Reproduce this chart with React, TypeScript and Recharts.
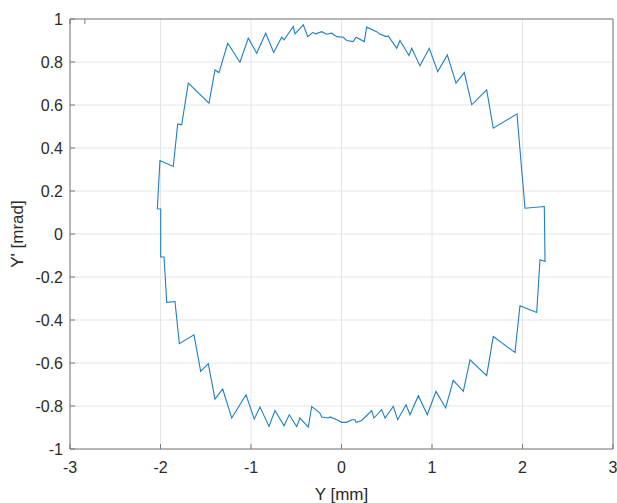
import { LineChart, Line, XAxis, YAxis, CartesianGrid } from "recharts";

// Y [mm] positions along the traced contour
const posY = [
    -2.035, -2.006, -1.859, -1.81, -1.766, -1.693, -1.464, -1.398, -1.354, -1.257,
    -1.122, -1.03, -0.937, -0.838, -0.749, -0.661, -0.635, -0.533, -0.514, -0.422,
    -0.373, -0.318, -0.282, -0.219, -0.164, -0.108, -0.053, 0.02, 0.057, 0.13,
    0.16, 0.252, 0.278, 0.389, 0.418, 0.492, 0.517, 0.61, 0.646, 0.746,
    0.776, 0.867, 0.97, 1.063, 1.169, 1.265, 1.357, 1.439, 1.604, 1.677,
    1.939, 1.991, 2.028, 2.241, 2.249, 2.193, 2.157, 1.972, 1.917, 1.677,
    1.604, 1.42, 1.346, 1.235, 1.151, 1.044, 0.948, 0.849, 0.757, 0.713,
    0.621, 0.572, 0.481, 0.444, 0.359, 0.334, 0.223, 0.16, 0.149, 0.113,
    0.057, 0.002, -0.053, -0.127, -0.146, -0.219, -0.238, -0.329, -0.367, -0.459,
    -0.495, -0.577, -0.635, -0.735, -0.801, -0.901, -0.964, -1.055, -1.213, -1.313,
    -1.398, -1.472, -1.556, -1.63, -1.792, -1.84, -1.931, -1.961, -1.998, -1.998,
    -2.035,
];

// Y' [mrad] angles, same order
const angY = [
    0.116, 0.342, 0.314, 0.512, 0.508, 0.702, 0.609, 0.763, 0.751, 0.887,
    0.799, 0.911, 0.841, 0.934, 0.844, 0.915, 0.903, 0.965, 0.931, 0.973,
    0.918, 0.937, 0.931, 0.941, 0.929, 0.934, 0.918, 0.915, 0.9, 0.895,
    0.915, 0.895, 0.962, 0.941, 0.931, 0.918, 0.921, 0.864, 0.9, 0.83,
    0.864, 0.782, 0.864, 0.755, 0.833, 0.702, 0.751, 0.601, 0.67, 0.492,
    0.559, 0.298, 0.12, 0.128, -0.128, -0.12, -0.365, -0.334, -0.551, -0.477,
    -0.659, -0.585, -0.732, -0.681, -0.809, -0.732, -0.841, -0.752, -0.841, -0.794,
    -0.864, -0.802, -0.856, -0.817, -0.856, -0.821, -0.867, -0.876, -0.864, -0.864,
    -0.876, -0.876, -0.864, -0.851, -0.856, -0.851, -0.833, -0.802, -0.898, -0.856,
    -0.895, -0.841, -0.892, -0.821, -0.895, -0.805, -0.861, -0.748, -0.856, -0.721,
    -0.768, -0.603, -0.639, -0.469, -0.51, -0.314, -0.318, -0.107, -0.107, 0.116,
    0.116,
];

const xTicks = [-3, -2, -1, 0, 1, 2, 3];
const yTicks = [-1, -0.8, -0.6, -0.4, -0.2, 0, 0.2, 0.4, 0.6, 0.8, 1];

const data = posY.map((x, i) => ({ x, y: angY[i] }));

const FONT = '"Liberation Sans", Arial, Helvetica, sans-serif';
const AXIS = "#7a7a7a";
const TEXT = "#2b2b2b";

const BottomTick = (props: any) => {
    const { x, y, payload } = props;
    return (
        <g>
            <line x1={x} y1={y} x2={x} y2={y - 5} stroke={AXIS} />
            <text x={x} y={y + 24} textAnchor="middle" fill={TEXT} fontSize={16} fontFamily={FONT}>
                {payload.value}
            </text>
        </g>
    );
};

const LeftTick = (props: any) => {
    const { x, y, payload } = props;
    return (
        <g>
            <line x1={x} y1={y} x2={x + 5} y2={y} stroke={AXIS} />
            <text x={x - 7} y={y} dy="0.36em" textAnchor="end" fill={TEXT} fontSize={16} fontFamily={FONT}>
                {payload.value}
            </text>
        </g>
    );
};

const TopTick = (props: any) => {
    const { x, y } = props;
    return <line x1={x} y1={y} x2={x} y2={y + 5} stroke={AXIS} />;
};

const RightTick = (props: any) => {
    const { x, y } = props;
    return <line x1={x} y1={y} x2={x - 5} y2={y} stroke={AXIS} />;
};

export default function App() {
    return (
        <div style={{ position: "absolute", left: 0, top: 0, background: "#fff" }}>
            <LineChart
                width={617}
                height={503}
                data={data}
                margin={{ top: 18, right: 0, left: 0, bottom: 0 }}
            >
                <CartesianGrid stroke="#e4e4e4" />
                <XAxis
                    dataKey="x"
                    type="number"
                    domain={[-3, 3]}
                    ticks={xTicks}
                    height={54}
                    tickSize={0}
                    tickMargin={0}
                    tick={<BottomTick />}
                    axisLine={{ stroke: AXIS }}
                    label={{
                        value: "Y [mm]",
                        position: "insideBottom",
                        offset: 3,
                        fill: TEXT,
                        fontSize: 17,
                        fontFamily: FONT,
                    }}
                />
                <XAxis
                    xAxisId="top"
                    orientation="top"
                    type="number"
                    domain={[-3, 3]}
                    ticks={xTicks}
                    height={1}
                    tickSize={0}
                    tickMargin={0}
                    tick={<TopTick />}
                    axisLine={{ stroke: AXIS }}
                />
                <YAxis
                    type="number"
                    domain={[-1, 1]}
                    ticks={yTicks}
                    width={70}
                    tickSize={0}
                    tickMargin={0}
                    tick={<LeftTick />}
                    axisLine={{ stroke: AXIS }}
                    label={{
                        value: "Y' [mrad]",
                        angle: -90,
                        position: "insideLeft",
                        offset: 17,
                        fill: TEXT,
                        fontSize: 17,
                        fontFamily: FONT,
                        style: { textAnchor: "middle" },
                    }}
                />
                <YAxis
                    yAxisId="right"
                    orientation="right"
                    type="number"
                    domain={[-1, 1]}
                    ticks={yTicks}
                    width={4}
                    tickSize={0}
                    tickMargin={0}
                    tick={<RightTick />}
                    axisLine={{ stroke: AXIS }}
                />
                <Line
                    dataKey="y"
                    type="linear"
                    stroke="#1f7fc2"
                    strokeWidth={1.1}
                    dot={false}
                    activeDot={false}
                    isAnimationActive={false}
                />
            </LineChart>
        </div>
    );
}
